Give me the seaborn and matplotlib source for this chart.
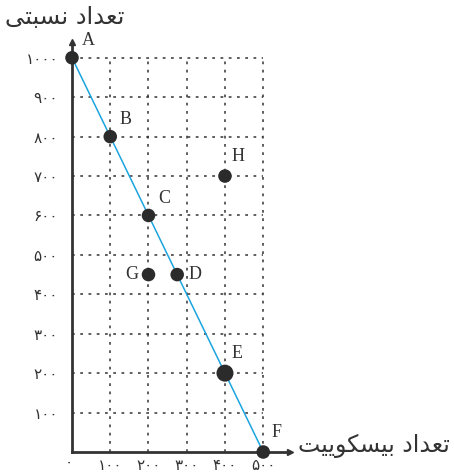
import matplotlib.pyplot as plt
import seaborn as sns
import pandas as pd

# points on the chart
names = ['A', 'B', 'C', 'D', 'E', 'F', 'G', 'H']
cookies = [0, 100, 200, 275, 400, 500, 200, 400]
relative = [1000, 800, 600, 450, 200, 0, 450, 700]
kind = ['small', 'small', 'small', 'small', 'big', 'small', 'small', 'small']

frontier = ['A', 'B', 'C', 'D', 'E', 'F']
x_ticks = [100, 200, 300, 400, 500]
y_ticks = [100, 200, 300, 400, 500, 600, 700, 800, 900, 1000]

# Persian text in visual order (presentation forms)
y_title = '\uFEF0\uFE98\uFE92\uFEB4\uFEE7 \uFEA9\uFE8D\uFEAA\uFECC\uFE97'
x_title = '\uFE96\uFEF4\uFEF3\uFEEE\uFEDC\uFEB4\uFEF4\uFE91 \uFEA9\uFE8D\uFEAA\uFECC\uFE97'


def fa(n):
    return str(n).translate(str.maketrans('0123456789', '۰۱۲۳۴۵۶۷۸۹'))


df = pd.DataFrame({'name': names, 'x': cookies, 'y': relative, 'kind': kind})
line_df = df[df['name'].isin(frontier)]

sns.set_style('white')
plt.rcParams['font.family'] = ['DejaVu Sans']

fig = plt.figure(figsize=(4.54, 4.73), dpi=100)
ax = fig.add_axes([72 / 454, 21 / 473, 218 / 454, 410 / 473])
ax.set_xlim(0, 570)
ax.set_ylim(0, 1040)

grid_kw = dict(color='#333333', lw=1.1, linestyle=(0, (1.8, 3.6)), zorder=1)
ax.hlines(y_ticks, 0, 500, **grid_kw)
ax.vlines(x_ticks, 0, 1000, **grid_kw)

sns.lineplot(data=line_df, x='x', y='y', color='#1ba4e0', lw=1.1, ax=ax, zorder=2,
             sort=False)
sns.scatterplot(data=df, x='x', y='y', size='kind', sizes={'small': 95, 'big': 150},
                color='#2b2b2b', edgecolor='none', legend=False, ax=ax, zorder=3,
                clip_on=False)

offsets = {'A': (7, 6), 'B': (7, 6), 'C': (7, 6), 'D': (8, 0), 'E': (5, 8),
           'F': (6, 8), 'G': (-7, 0), 'H': (5, 8)}
for n, x, y in zip(names, cookies, relative):
    dx, dy = offsets[n]
    ax.annotate(n, (x, y), xytext=(dx, dy), textcoords='offset points',
                ha='right' if dx < 0 else 'left', va='bottom' if dy > 0 else 'center',
                fontsize=13, family='Liberation Serif', color='#333333')

for s in ['top', 'right']:
    ax.spines[s].set_visible(False)
for s in ['left', 'bottom']:
    ax.spines[s].set_color('#333333')
    ax.spines[s].set_linewidth(2)
ax.plot(1, 0, '>', color='#333333', ms=5, transform=ax.transAxes, clip_on=False)
ax.plot(0, 1, '^', color='#333333', ms=5, transform=ax.transAxes, clip_on=False)

ax.set_xticks(x_ticks)
ax.set_xticklabels([fa(t) for t in x_ticks], fontsize=11, color='#333333')
ax.set_yticks(y_ticks)
ax.set_yticklabels([fa(t) for t in y_ticks], fontsize=11, color='#333333')
ax.tick_params(length=0, pad=10)
ax.tick_params(axis='x', pad=4)
ax.set_xlabel('')
ax.set_ylabel('')
ax.text(-8, -8, fa(0), transform=ax.transData, ha='center', va='top', fontsize=11,
        color='#333333')

fig.text(5 / 454, 1 - 5 / 473, y_title, ha='left', va='top', fontsize=17.5, color='#333333')
fig.text(1 - 4 / 454, 1 - 446 / 473, x_title, ha='right', va='center', fontsize=17,
         color='#333333')

fig.savefig('out.png', dpi=100)
